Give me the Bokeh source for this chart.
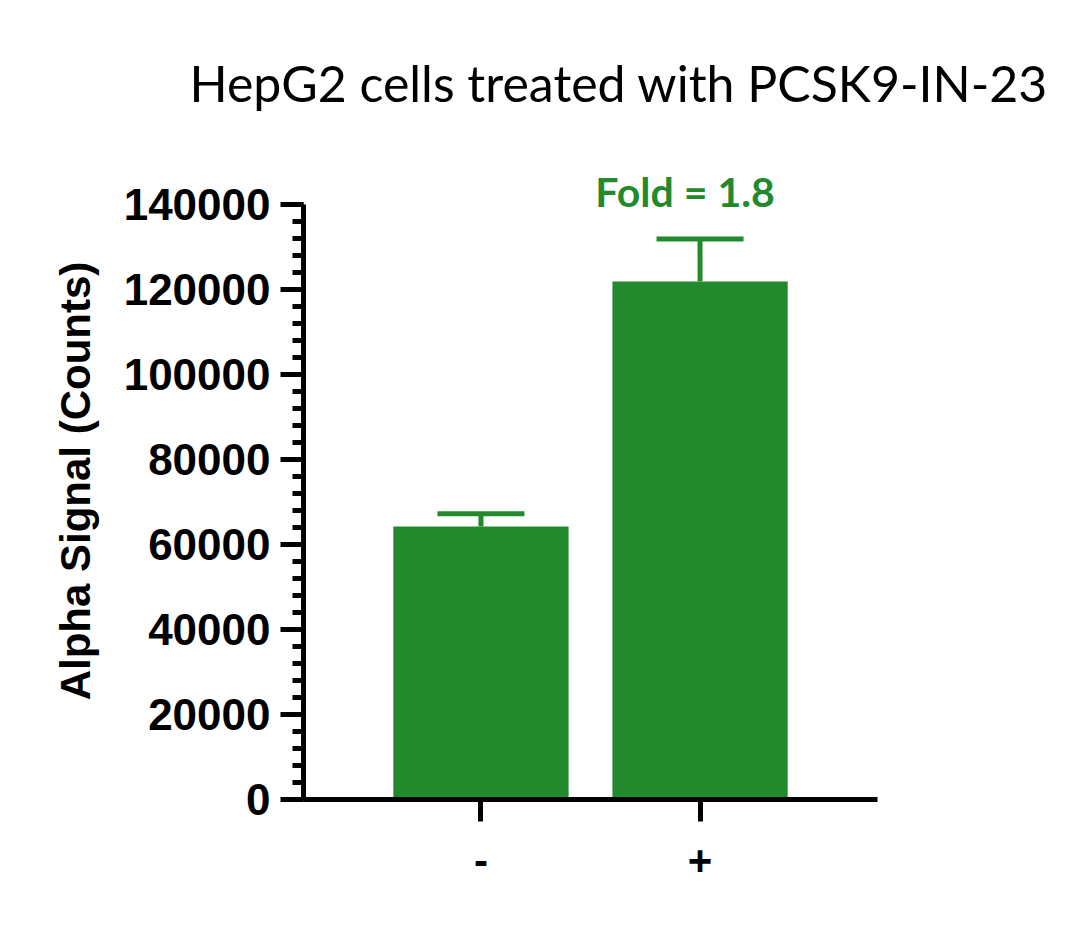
from bokeh.plotting import figure
from bokeh.models import (ColumnDataSource, FactorRange, Range1d, Whisker, TeeHead,
                          SingleIntervalTicker, Title, BasicTickFormatter)
from bokeh.core.properties import value
from bokeh.embed import file_html
from bokeh.resources import INLINE

# data
groups = ["-", "+"]
means = [64300, 122000]
errors = [3000, 10000]
fold_text = ["", "Fold = 1.8"]

green = "#228A2C"

upper = [m + e for m, e in zip(means, errors)]
src = ColumnDataSource(data=dict(x=groups, top=means, lower=means, upper=upper, label=fold_text))

p = figure(width=1064, height=913, output_backend="svg", toolbar_location=None, tools="",
           x_range=FactorRange(*groups, range_padding=0.31, range_padding_units="absolute"),
           y_range=Range1d(0, 150000),
           min_border_left=303, min_border_right=187, min_border_top=159, min_border_bottom=114)

p.title = Title(text="HepG2 cells treated with PCSK9-IN-23", align="left", offset=-114,
                text_font="Lato", text_font_style="normal", text_font_size="50px",
                text_color="black", standoff=100)

p.vbar(x="x", top="top", width=0.8, source=src, fill_color=green, line_color=None)

w = Whisker(base="x", lower="lower", upper="upper", source=src, line_width=5, line_color=green,
            upper_head=TeeHead(size=87, line_width=5, line_color=green), lower_head=None)
p.add_layout(w)

p.text(x="x", y="upper", text="label", source=src, x_offset=-15, y_offset=-47,
       text_align="center", text_baseline="alphabetic", text_color=green,
       text_font=value("Lato"), text_font_style="bold", text_font_size="41px")

p.xgrid.visible = False
p.ygrid.visible = False
p.outline_line_color = None

yax = p.yaxis[0]
yax.ticker = SingleIntervalTicker(interval=20000, num_minor_ticks=5)
yax.formatter = BasicTickFormatter(use_scientific=False)
yax.bounds = (0, 140000)
yax.axis_line_width = 5
yax.major_tick_line_width = 5
yax.minor_tick_line_width = 5
yax.major_tick_out = 23
yax.major_tick_in = 0
yax.minor_tick_out = 11
yax.minor_tick_in = 0
yax.major_label_standoff = 10
yax.major_label_text_font = "Liberation Sans"
yax.major_label_text_font_style = "bold"
yax.major_label_text_font_size = "44px"
yax.major_label_text_color = "black"
yax.axis_label = "Alpha Signal (Counts)"
yax.axis_label_text_font = "Liberation Sans"
yax.axis_label_text_font_style = "bold"
yax.axis_label_text_font_size = "42px"
yax.axis_label_text_color = "black"
yax.axis_label_standoff = 22

xax = p.xaxis[0]
xax.axis_line_width = 5
xax.major_tick_line_width = 5
xax.major_tick_out = 22
xax.major_tick_in = 0
xax.minor_tick_out = 0
xax.major_label_standoff = 24
xax.major_label_text_font = "Liberation Sans"
xax.major_label_text_font_style = "bold"
xax.major_label_text_font_size = "42px"
xax.major_label_text_color = "black"

open("out.html", "w").write(file_html(p, INLINE))
